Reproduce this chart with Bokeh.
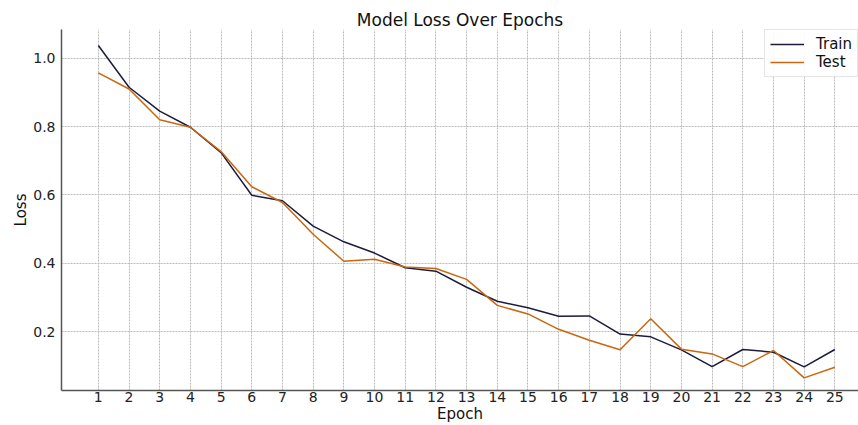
from bokeh.plotting import figure
from bokeh.models import Range1d, FixedTicker, PrintfTickFormatter, Legend, LegendItem
from bokeh.embed import file_html
from bokeh.resources import INLINE

epochs = list(range(1, 26))
train_loss = [1.037, 0.915, 0.845, 0.798, 0.724, 0.599, 0.583, 0.509, 0.463, 0.430,
              0.387, 0.377, 0.330, 0.289, 0.270, 0.245, 0.246, 0.193, 0.185, 0.147,
              0.098, 0.148, 0.140, 0.097, 0.148]
test_loss = [0.957, 0.910, 0.820, 0.798, 0.727, 0.624, 0.578, 0.485, 0.406, 0.412,
             0.389, 0.385, 0.353, 0.277, 0.252, 0.207, 0.175, 0.147, 0.238, 0.149,
             0.135, 0.098, 0.145, 0.065, 0.096]
y_ticks = [0.2, 0.4, 0.6, 0.8, 1.0]

FONT = "DejaVu Sans"

p = figure(width=858, height=425, output_backend="svg", toolbar_location=None,
           x_range=Range1d(-0.2, 25.77), y_range=Range1d(0.028, 1.084),
           min_border_left=61, min_border_right=0, min_border_top=29, min_border_bottom=32)

p.title.text = "Model Loss Over Epochs"
p.title.align = "center"
p.title.text_font = FONT
p.title.text_font_size = "17px"
p.title.text_font_style = "normal"
p.title.text_color = "#111111"
p.title.standoff = 0
p.title.offset = 0

p.outline_line_color = None
p.background_fill_color = "white"

train_r = p.line(epochs, train_loss, line_color="#1b1b3e", line_width=1.5)
test_r = p.line(epochs, test_loss, line_color="#c9670e", line_width=1.5)

legend = Legend(items=[LegendItem(label="Train", renderers=[train_r]),
                       LegendItem(label="Test", renderers=[test_r])],
                location=(703, 313))
legend.label_text_font = FONT
legend.label_text_font_size = "15px"
legend.label_text_color = "#111111"
legend.glyph_width = 34
legend.glyph_height = 14
legend.label_height = 14
legend.label_standoff = 12
legend.spacing = 0
legend.padding = 5
legend.margin = 0
legend.border_line_color = "#cccccc"
legend.border_line_width = 1
legend.background_fill_alpha = 0.9
p.add_layout(legend)

p.xaxis.ticker = FixedTicker(ticks=epochs)
p.yaxis.ticker = FixedTicker(ticks=y_ticks)
p.yaxis.formatter = PrintfTickFormatter(format="%.1f")

for ax in (p.xaxis, p.yaxis):
    ax.major_label_text_font = FONT
    ax.major_label_text_font_size = "14px"
    ax.major_label_text_color = "#222222"
    ax.axis_label_text_font = FONT
    ax.axis_label_text_font_size = "15px"
    ax.axis_label_text_font_style = "normal"
    ax.axis_label_text_color = "#111111"
    ax.major_tick_out = 0
    ax.major_tick_in = 0
    ax.minor_tick_out = 0
    ax.minor_tick_in = 0
    ax.axis_line_color = "#555555"
    ax.axis_line_width = 1.5
    ax.axis_label_standoff = 0

p.xaxis.axis_label = "Epoch"
p.yaxis.axis_label = "Loss"
p.xaxis.major_label_standoff = 1
p.yaxis.major_label_standoff = 6

p.xgrid.ticker = FixedTicker(ticks=epochs)
p.ygrid.ticker = FixedTicker(ticks=y_ticks)
for g in (p.xgrid, p.ygrid):
    g.grid_line_color = "#bbbbbb"
    g.grid_line_dash = "2 1"
    g.grid_line_width = 1

open("out.html", "w").write(file_html(p, INLINE))
